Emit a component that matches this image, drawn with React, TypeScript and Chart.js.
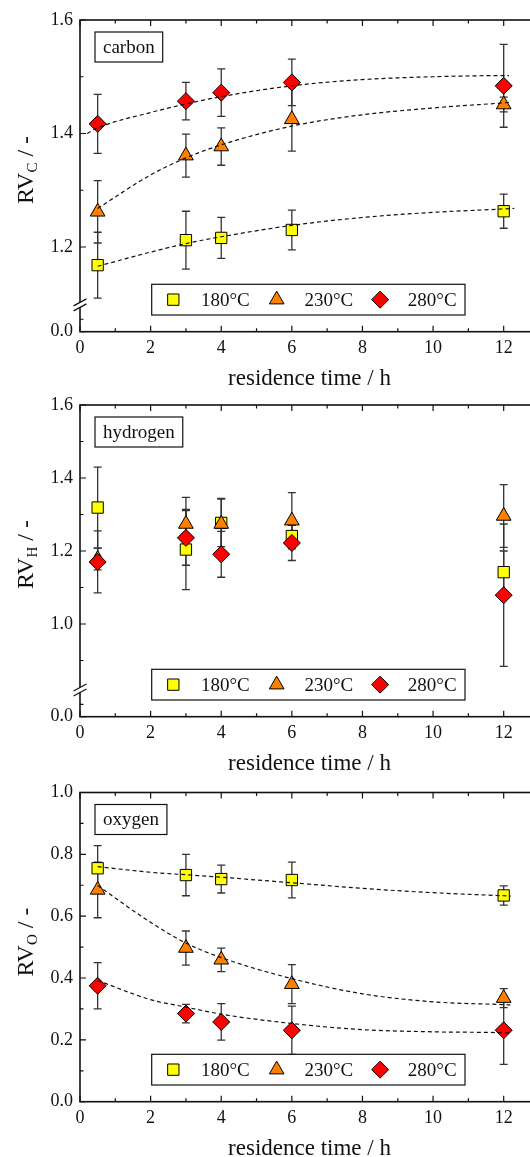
import React, { useEffect, useRef } from "react";
import { Chart, registerables } from "chart.js";
import { drawPoint } from "chart.js/helpers";

Chart.register(...registerables);

// ---------------- data ----------------
const residenceTimes = [0.5, 3, 4, 6, 12];
const temperatureLabels = ["180°C", "230°C", "280°C"];
const xTickValues = [0, 2, 4, 6, 8, 10, 12];
const xMinorTickValues = [1, 3, 5, 7, 9, 11];

// carbon
const carbon180 = [1.168, 1.212, 1.216, 1.23, 1.263];
const carbon180Err = [0.058, 0.051, 0.036, 0.035, 0.03];
const carbon230 = [1.262, 1.361, 1.377, 1.425, 1.451];
const carbon230Err = [0.055, 0.038, 0.033, 0.056, 0.013];
const carbon280 = [1.417, 1.457, 1.472, 1.49, 1.484];
const carbon280Err = [0.052, 0.033, 0.042, 0.041, 0.073];
const carbonFitX180 = [0.5, 2, 3, 4, 6, 8, 10, 12, 12.3];
const carbonFit180 = [1.166, 1.191, 1.206, 1.218, 1.238, 1.252, 1.261, 1.267, 1.268];
const carbonFitX230 = [0.5, 2, 3, 4, 6, 8, 10, 12, 12.2];
const carbonFit230 = [1.268, 1.327, 1.357, 1.38, 1.413, 1.433, 1.445, 1.454, 1.455];
const carbonFitX280 = [0.2, 0.5, 2, 3, 4, 6, 8, 10, 12, 12.15];
const carbonFit280 = [1.4, 1.41, 1.437, 1.452, 1.465, 1.484, 1.495, 1.5, 1.502, 1.502];
const carbonYTickLabels = ["0.0", "1.2", "1.4", "1.6"];

// hydrogen
const hydrogen180 = [1.319, 1.204, 1.277, 1.241, 1.142];
const hydrogen180Err = [0.111, 0.11, 0.065, 0.03, 0.058];
const hydrogen230 = [1.178, 1.274, 1.274, 1.283, 1.296];
const hydrogen230Err = [0.03, 0.073, 0.07, 0.077, 0.086];
const hydrogen280 = [1.17, 1.236, 1.191, 1.222, 1.079];
const hydrogen280Err = [0.085, 0.075, 0.063, 0.048, 0.195];
const hydrogenYTickLabels = ["0.0", "1.0", "1.2", "1.4", "1.6"];

// oxygen
const oxygen180 = [0.755, 0.733, 0.72, 0.717, 0.667];
const oxygen180Err = [0.073, 0.067, 0.045, 0.058, 0.031];
const oxygen230 = [0.685, 0.497, 0.459, 0.38, 0.335];
const oxygen230Err = [0.09, 0.055, 0.038, 0.063, 0.031];
const oxygen280 = [0.375, 0.285, 0.258, 0.231, 0.231];
const oxygen280Err = [0.075, 0.03, 0.059, 0.078, 0.11];
const oxygenFitX = [0.5, 2, 3, 4, 6, 8, 10, 12, 12.2];
const oxygenFit180 = [0.76, 0.742, 0.734, 0.726, 0.708, 0.69, 0.676, 0.666, 0.665];
const oxygenFit230 = [0.699, 0.58, 0.513, 0.466, 0.398, 0.349, 0.323, 0.314, 0.313];
const oxygenFit280 = [0.392, 0.33, 0.306, 0.283, 0.253, 0.233, 0.226, 0.223, 0.222];
const oxygenYTickLabels = ["0.0", "0.2", "0.4", "0.6", "0.8", "1.0"];

// ---------------- styles / layout ----------------
const FONT = '"Liberation Serif", "Times New Roman", Times, serif';
const CANVAS_W = 560;
const PLOT_LEFT = 80;
const PLOT_RIGHT = 539;
const X_AXIS_H = 40;
const INK = "#111";

const markerStyles = [
  { pointStyle: "rect", radius: 8, color: "#ffff00" },
  { pointStyle: "triangle", radius: 8.5, color: "#ff8000" },
  { pointStyle: "rectRot", radius: 8.5, color: "#ff0000" },
];

type Series = { y: number[]; err: number[] };
type Fit = { x: number[]; y: number[] };
type PanelCfg = {
  tag: string;
  sub: string;
  canvasTop: number;
  canvasH: number;
  plotTop: number;
  plotBottom: number;
  yMin: number;
  yMax: number;
  yMajorPos: number[];
  yTickLabels: string[];
  yMinorPos: number[];
  breakAt: number | null;
  series: Series[];
  fits: Fit[];
};

const panels: PanelCfg[] = [
  {
    tag: "carbon",
    sub: "C",
    canvasTop: 0,
    canvasH: 386,
    plotTop: 20,
    plotBottom: 331.7,
    yMin: 1.0507,
    yMax: 1.6,
    yMajorPos: [1.0507, 1.2, 1.4, 1.6],
    yTickLabels: carbonYTickLabels,
    yMinorPos: [1.0726, 1.3, 1.5],
    breakAt: 1.098,
    series: [
      { y: carbon180, err: carbon180Err },
      { y: carbon230, err: carbon230Err },
      { y: carbon280, err: carbon280Err },
    ],
    fits: [
      { x: carbonFitX180, y: carbonFit180 },
      { x: carbonFitX230, y: carbonFit230 },
      { x: carbonFitX280, y: carbonFit280 },
    ],
  },
  {
    tag: "hydrogen",
    sub: "H",
    canvasTop: 386,
    canvasH: 386,
    plotTop: 19,
    plotBottom: 330.7,
    yMin: 0.746,
    yMax: 1.6,
    yMajorPos: [0.746, 1.0, 1.2, 1.4, 1.6],
    yTickLabels: hydrogenYTickLabels,
    yMinorPos: [0.78, 0.9, 1.1, 1.3, 1.5],
    breakAt: 0.819,
    series: [
      { y: hydrogen180, err: hydrogen180Err },
      { y: hydrogen230, err: hydrogen230Err },
      { y: hydrogen280, err: hydrogen280Err },
    ],
    fits: [],
  },
  {
    tag: "oxygen",
    sub: "O",
    canvasTop: 772,
    canvasH: 385,
    plotTop: 20.5,
    plotBottom: 329.7,
    yMin: 0,
    yMax: 1.0,
    yMajorPos: [0, 0.2, 0.4, 0.6, 0.8, 1.0],
    yTickLabels: oxygenYTickLabels,
    yMinorPos: [0.1, 0.3, 0.5, 0.7, 0.9],
    breakAt: null,
    series: [
      { y: oxygen180, err: oxygen180Err },
      { y: oxygen230, err: oxygen230Err },
      { y: oxygen280, err: oxygen280Err },
    ],
    fits: [
      { x: oxygenFitX, y: oxygenFit180 },
      { x: oxygenFitX, y: oxygenFit230 },
      { x: oxygenFitX, y: oxygenFit280 },
    ],
  },
];

function makeDecorPlugin(cfg: PanelCfg) {
  return {
    id: "decor",
    beforeDatasetsDraw(chart: any) {
      const ctx = chart.ctx;
      const xs = chart.scales.x;
      const ys = chart.scales.y;
      ctx.save();
      ctx.strokeStyle = "#333";
      ctx.lineWidth = 1.3;
      cfg.series.forEach((s) => {
        residenceTimes.forEach((t, i) => {
          const px = xs.getPixelForValue(t);
          const y1 = ys.getPixelForValue(s.y[i] + s.err[i]);
          const y2 = ys.getPixelForValue(s.y[i] - s.err[i]);
          ctx.beginPath();
          ctx.moveTo(px, y1);
          ctx.lineTo(px, y2);
          ctx.moveTo(px - 4, y1);
          ctx.lineTo(px + 4, y1);
          ctx.moveTo(px - 4, y2);
          ctx.lineTo(px + 4, y2);
          ctx.stroke();
        });
      });
      ctx.restore();
    },
    afterDraw(chart: any) {
      const ctx = chart.ctx;
      const xs = chart.scales.x;
      const ys = chart.scales.y;
      const { left, right, top, bottom } = chart.chartArea;
      ctx.save();

      // frame
      ctx.strokeStyle = INK;
      ctx.lineWidth = 1.6;
      ctx.strokeRect(left, top, right - left, bottom - top);

      // inward ticks
      ctx.lineWidth = 1.2;
      ctx.beginPath();
      const tick = (vals: number[], len: number) => {
        vals.forEach((v) => {
          const px = xs.getPixelForValue(v);
          ctx.moveTo(px, bottom);
          ctx.lineTo(px, bottom - len);
          ctx.moveTo(px, top);
          ctx.lineTo(px, top + len);
        });
      };
      tick(xTickValues, 6);
      tick(xMinorTickValues, 3.5);
      const ytick = (vals: number[], len: number) => {
        vals.forEach((v) => {
          const py = ys.getPixelForValue(v);
          ctx.moveTo(left, py);
          ctx.lineTo(left + len, py);
          ctx.moveTo(right, py);
          ctx.lineTo(right - len, py);
        });
      };
      ytick(cfg.yMajorPos, 6);
      ytick(cfg.yMinorPos, 3.5);
      ctx.stroke();

      // axis break
      if (cfg.breakAt !== null) {
        const yb = ys.getPixelForValue(cfg.breakAt);
        const dx = 6.5;
        const dy = 3.5;
        const gap = 2.5;
        ctx.fillStyle = "#fff";
        ctx.beginPath();
        ctx.moveTo(left - dx, yb + dy - gap);
        ctx.lineTo(left + dx, yb - dy - gap);
        ctx.lineTo(left + dx, yb - dy + gap);
        ctx.lineTo(left - dx, yb + dy + gap);
        ctx.closePath();
        ctx.fill();
        ctx.strokeStyle = INK;
        ctx.lineWidth = 1.2;
        ctx.beginPath();
        ctx.moveTo(left - dx, yb + dy - gap);
        ctx.lineTo(left + dx, yb - dy - gap);
        ctx.moveTo(left - dx, yb + dy + gap);
        ctx.lineTo(left + dx, yb - dy + gap);
        ctx.stroke();
      }

      // tag box
      ctx.font = `19px ${FONT}`;
      const tw = ctx.measureText(cfg.tag).width;
      const bx = left + 15;
      const by = top + 12;
      const bw = tw + 16;
      const bh = 30;
      ctx.fillStyle = "#fff";
      ctx.fillRect(bx, by, bw, bh);
      ctx.strokeStyle = INK;
      ctx.lineWidth = 1.2;
      ctx.strokeRect(bx, by, bw, bh);
      ctx.fillStyle = INK;
      ctx.textBaseline = "middle";
      ctx.textAlign = "left";
      ctx.fillText(cfg.tag, bx + 8, by + bh / 2 + 1);

      // legend
      const lx = 151.7;
      const lh = 30.7;
      const ly = bottom - 47.4;
      ctx.fillStyle = "#fff";
      ctx.fillRect(lx, ly, 313.3, lh);
      ctx.strokeRect(lx, ly, 313.3, lh);
      const cy = ly + lh / 2;
      markerStyles.forEach((m, i) => {
        const cx = lx + 21.6 + i * 103.4;
        ctx.fillStyle = m.color;
        ctx.strokeStyle = "#000";
        ctx.lineWidth = 1;
        drawPoint(ctx, { pointStyle: m.pointStyle as any, radius: m.radius, rotation: 0, borderWidth: 1 }, cx, cy);
        ctx.fillStyle = INK;
        ctx.font = `19px ${FONT}`;
        ctx.textBaseline = "middle";
        ctx.textAlign = "left";
        ctx.fillText(temperatureLabels[i], lx + 49.3 + i * 103.4, cy + 1);
      });

      // x title
      ctx.fillStyle = INK;
      ctx.font = `23px ${FONT}`;
      ctx.textAlign = "center";
      ctx.textBaseline = "alphabetic";
      ctx.fillText("residence time / h", (xs.left + xs.right) / 2, bottom + 53.5);

      // y title
      ctx.save();
      ctx.translate(33, top + 184);
      ctx.rotate(-Math.PI / 2);
      ctx.textAlign = "left";
      ctx.textBaseline = "alphabetic";
      ctx.font = `24px ${FONT}`;
      ctx.fillText("RV", 0, 0);
      let w = ctx.measureText("RV").width;
      ctx.font = `15px ${FONT}`;
      ctx.fillText(cfg.sub, w, 4);
      w += ctx.measureText(cfg.sub).width;
      ctx.font = `24px ${FONT}`;
      ctx.fillText(" / -", w, 0);
      ctx.restore();

      ctx.restore();
    },
  };
}

function buildConfig(cfg: PanelCfg): any {
  const fitDatasets = cfg.fits.map((f) => ({
    label: "fit",
    data: f.x.map((x, i) => ({ x, y: f.y[i] })),
    showLine: true,
    borderColor: "#111",
    borderWidth: 1.2,
    borderDash: [4, 3],
    pointRadius: 0,
    cubicInterpolationMode: "monotone",
    fill: false,
    order: 0,
  }));
  const markerDatasets = cfg.series.map((s, k) => ({
    label: temperatureLabels[k],
    data: residenceTimes.map((x, i) => ({ x, y: s.y[i] })),
    showLine: false,
    pointStyle: markerStyles[k].pointStyle,
    pointRadius: markerStyles[k].radius,
    pointBackgroundColor: markerStyles[k].color,
    pointBorderColor: "#000",
    pointBorderWidth: 1,
    order: 3 - k,
  }));
  return {
    type: "scatter",
    data: { datasets: [...fitDatasets, ...markerDatasets] },
    options: {
      animation: false,
      responsive: false,
      maintainAspectRatio: false,
      events: [],
      layout: {
        padding: {
          left: 0,
          right: CANVAS_W - PLOT_RIGHT,
          top: cfg.plotTop,
          bottom: cfg.canvasH - cfg.plotBottom - X_AXIS_H,
        },
      },
      plugins: { legend: { display: false }, tooltip: { enabled: false } },
      scales: {
        x: {
          type: "linear",
          min: 0,
          max: 13,
          afterFit: (s: any) => {
            s.height = X_AXIS_H;
          },
          afterBuildTicks: (s: any) => {
            s.ticks = xTickValues.map((v) => ({ value: v }));
          },
          grid: { display: false, drawTicks: false },
          border: { display: false },
          ticks: {
            autoSkip: false,
            maxRotation: 0,
            padding: 6,
            color: INK,
            font: { family: FONT, size: 18 },
            callback: (v: any) => String(v),
          },
        },
        y: {
          type: "linear",
          min: cfg.yMin,
          max: cfg.yMax,
          afterFit: (s: any) => {
            s.width = PLOT_LEFT;
          },
          afterBuildTicks: (s: any) => {
            s.ticks = cfg.yMajorPos.map((v) => ({ value: v }));
          },
          grid: { display: false, drawTicks: false },
          border: { display: false },
          ticks: {
            autoSkip: false,
            padding: 7,
            color: INK,
            font: { family: FONT, size: 18 },
            callback: (_v: any, i: number) => cfg.yTickLabels[i],
          },
        },
      },
    },
    plugins: [makeDecorPlugin(cfg)],
  };
}

function Panel({ cfg }: { cfg: PanelCfg }) {
  const ref = useRef<HTMLCanvasElement>(null);
  useEffect(() => {
    const chart = new Chart(ref.current as HTMLCanvasElement, buildConfig(cfg));
    return () => chart.destroy();
  }, [cfg]);
  return (
    <canvas
      ref={ref}
      width={CANVAS_W}
      height={cfg.canvasH}
      style={{ position: "absolute", left: 0, top: cfg.canvasTop, width: CANVAS_W, height: cfg.canvasH }}
    />
  );
}

export default function App() {
  return (
    <div
      style={{
        position: "absolute",
        left: 0,
        top: 0,
        width: 530,
        height: 1157,
        overflow: "hidden",
        background: "#fff",
      }}
    >
      {panels.map((p) => (
        <Panel key={p.tag} cfg={p} />
      ))}
    </div>
  );
}
